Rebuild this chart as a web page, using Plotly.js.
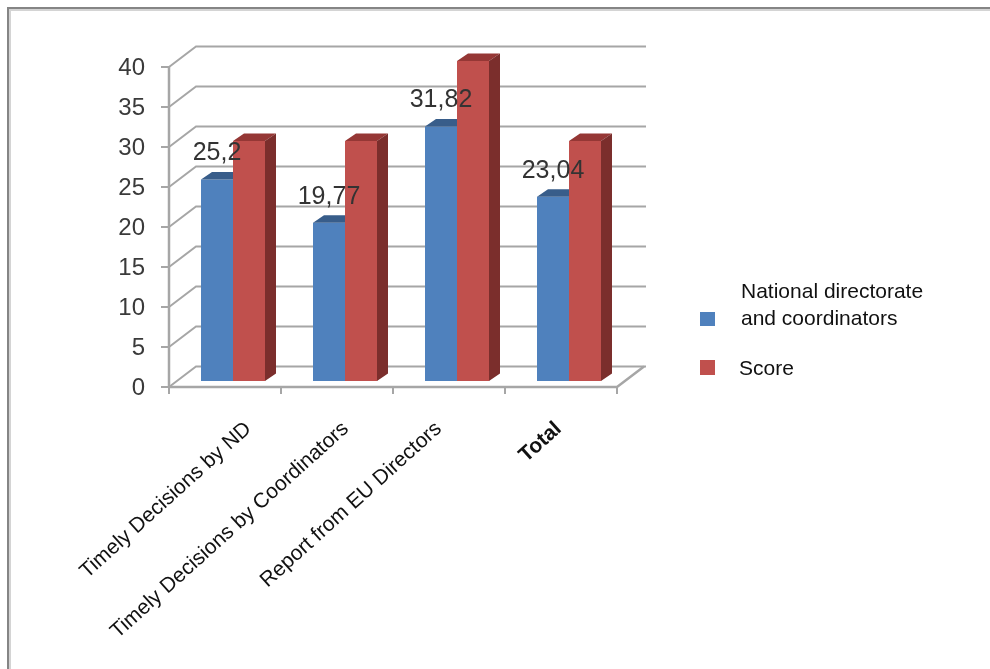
<!DOCTYPE html>
<html><head><meta charset="utf-8">
<script src="https://cdn.plot.ly/plotly-3.0.1.min.js"></script>
<style>html,body{margin:0;padding:0;background:#fff}#chart{width:990px;height:669px;filter:blur(0.6px)}</style>
</head><body><div id="chart"></div>
<script>
// ---- data ----
const categories = ['Timely Decisions by ND','Timely Decisions by Coordinators','Report from EU Directors','<b>Total</b>'];
const nationalValues = [25.2, 19.77, 31.82, 23.04];
const scoreValues = [30, 30, 40, 30];
const valueLabels = ['25,2','19,77','31,82','23,04'];
const yTicks = [0,5,10,15,20,25,30,35,40];
const seriesNames = ['National directorate<br>and coordinators','Score'];
const labelAnchors = [0.68, 1.55, 2.38, 3.45];

// ---- layout geometry (pixels) ----
const W=990,H=669,L=157,R=646,T=44,B=403;   // plot rectangle
const X0=169,Y0=387;                        // where data (0,0) sits
const pxX=112, pxY=8;
const xMin=(L-X0)/pxX, xMax=(R-X0)/pxX, yMin=(Y0-B)/pxY, yMax=(Y0-T)/pxY;
const wallDX=27/pxX, wallDY=20.5/pxY;
const depthDX=11/pxX, depthDY=7.5/pxY, lift=6/pxY;
const offBlue=32/pxX, barW=32/pxX;
const axisCol='#a6a6a6', gridCol='#a6a6a6';
const px=v=>(v-L)/(R-L), py=v=>(B-v)/(B-T);

const shapes=[];
function poly(pts,col,w,layer){
  shapes.push({type:'path',xref:'x',yref:'y',layer:layer||'below',
    path:pts.map((p,i)=>(i?'L':'M')+p[0]+','+p[1]).join(' '),line:{color:col,width:w||2}});
}
yTicks.forEach(v=>poly([[0,v],[wallDX,v+wallDY],[xMax,v+wallDY]],gridCol,2));
yTicks.forEach(v=>poly([[0,v],[-8/pxX,v]],axisCol,2));
poly([[0,0],[0,40]],axisCol,2.5);
poly([[0,0],[4,0],[4+wallDX,wallDY]],axisCol,2.5);
[0,1,2,3,4].forEach(i=>poly([[i,0],[i,-7/pxY]],axisCol,2));

// paper-anchored frame and legend keys
function paperRect(x0,y0,x1,y1,fill){
  shapes.push({type:'rect',xref:'paper',yref:'paper',x0:px(x0),x1:px(x1),y0:py(y1),y1:py(y0),fillcolor:fill,line:{width:0}});
}
paperRect(9,9,990,11,'#d4d4d4');
paperRect(9,9,11,669,'#d4d4d4');
paperRect(7,7,990,9,'#858585');
paperRect(7,7,9,669,'#858585');
paperRect(700,312,715,326,'#4f81bd');
paperRect(700,360,715,375,'#c0504d');

const idx=[0,1,2,3];
function topFace(values,off,rightDepth){
  const x=[],y=[];
  values.forEach((v,i)=>{
    const x0=i+off,x1=x0+barW,top=v+lift;
    x.push(x0,x0+depthDX,x1+rightDepth,x1,x0,null);
    y.push(top,top+depthDY,top+depthDY,top,top,null);
  });
  return {x,y};
}
function sideFace(values,off){
  const x=[],y=[];
  values.forEach((v,i)=>{
    const x1=i+off+barW,top=v+lift;
    x.push(x1,x1+depthDX,x1+depthDX,x1,x1,null);
    y.push(lift,lift+depthDY,top+depthDY,top,lift,null);
  });
  return {x,y};
}
function filled(f,col){
  return {type:'scatter',mode:'lines',x:f.x,y:f.y,fill:'toself',fillcolor:col,line:{width:0},hoverinfo:'skip',showlegend:false};
}
function frontBar(values,off,col,name){
  return {type:'bar',name,x:idx.map(i=>i+off+barW/2),y:values,base:lift,width:barW,marker:{color:col,line:{width:0}},showlegend:false};
}
const data=[
  frontBar(nationalValues,offBlue,'#4f81bd',seriesNames[0]),
  frontBar(scoreValues,offBlue+barW,'#c0504d',seriesNames[1]),
  filled(topFace(nationalValues,offBlue,0),'#385d8a'),
  filled(topFace(scoreValues,offBlue+barW,depthDX),'#953735'),
  filled(sideFace(scoreValues,offBlue+barW),'#7b2e2c'),
  {type:'scatter',mode:'text',x:idx.map(i=>i+offBlue+barW/2),y:nationalValues.map(v=>v+lift+3.15),
   text:valueLabels,textposition:'middle center',textfont:{family:'Liberation Sans, Arial, sans-serif',size:25,color:'#333'},
   hoverinfo:'skip',showlegend:false,cliponaxis:false}
];
const lf={family:'Liberation Sans, Arial, sans-serif',size:21,color:'#111'};
const layout={
  width:W,height:H,paper_bgcolor:'#fff',plot_bgcolor:'rgba(0,0,0,0)',showlegend:false,
  margin:{l:L,r:W-R,t:T,b:H-B,pad:0},barmode:'overlay',
  xaxis:{range:[xMin,xMax],tickmode:'array',tickvals:labelAnchors,ticktext:categories,tickangle:-42,
    ticks:'',showgrid:false,zeroline:false,showline:false,ticklabelstandoff:8,
    tickfont:{family:'Liberation Sans, Arial, sans-serif',size:21,color:'#111'}},
  yaxis:{range:[yMin,yMax],tickmode:'array',tickvals:yTicks,ticks:'',
    showgrid:false,zeroline:false,showline:false,ticklabelstandoff:11,
    tickfont:{family:'Liberation Sans, Arial, sans-serif',size:24,color:'#3a3a3a'}},
  shapes,
  annotations:[
    {xref:'paper',yref:'paper',x:px(739),y:py(304),xanchor:'left',yanchor:'middle',align:'left',showarrow:false,
     text:seriesNames[0],font:lf},
    {xref:'paper',yref:'paper',x:px(737),y:py(367),xanchor:'left',yanchor:'middle',align:'left',showarrow:false,
     text:seriesNames[1],font:lf}
  ]
};
Plotly.newPlot('chart',data,layout,{displayModeBar:false,staticPlot:true});
</script></body></html>
